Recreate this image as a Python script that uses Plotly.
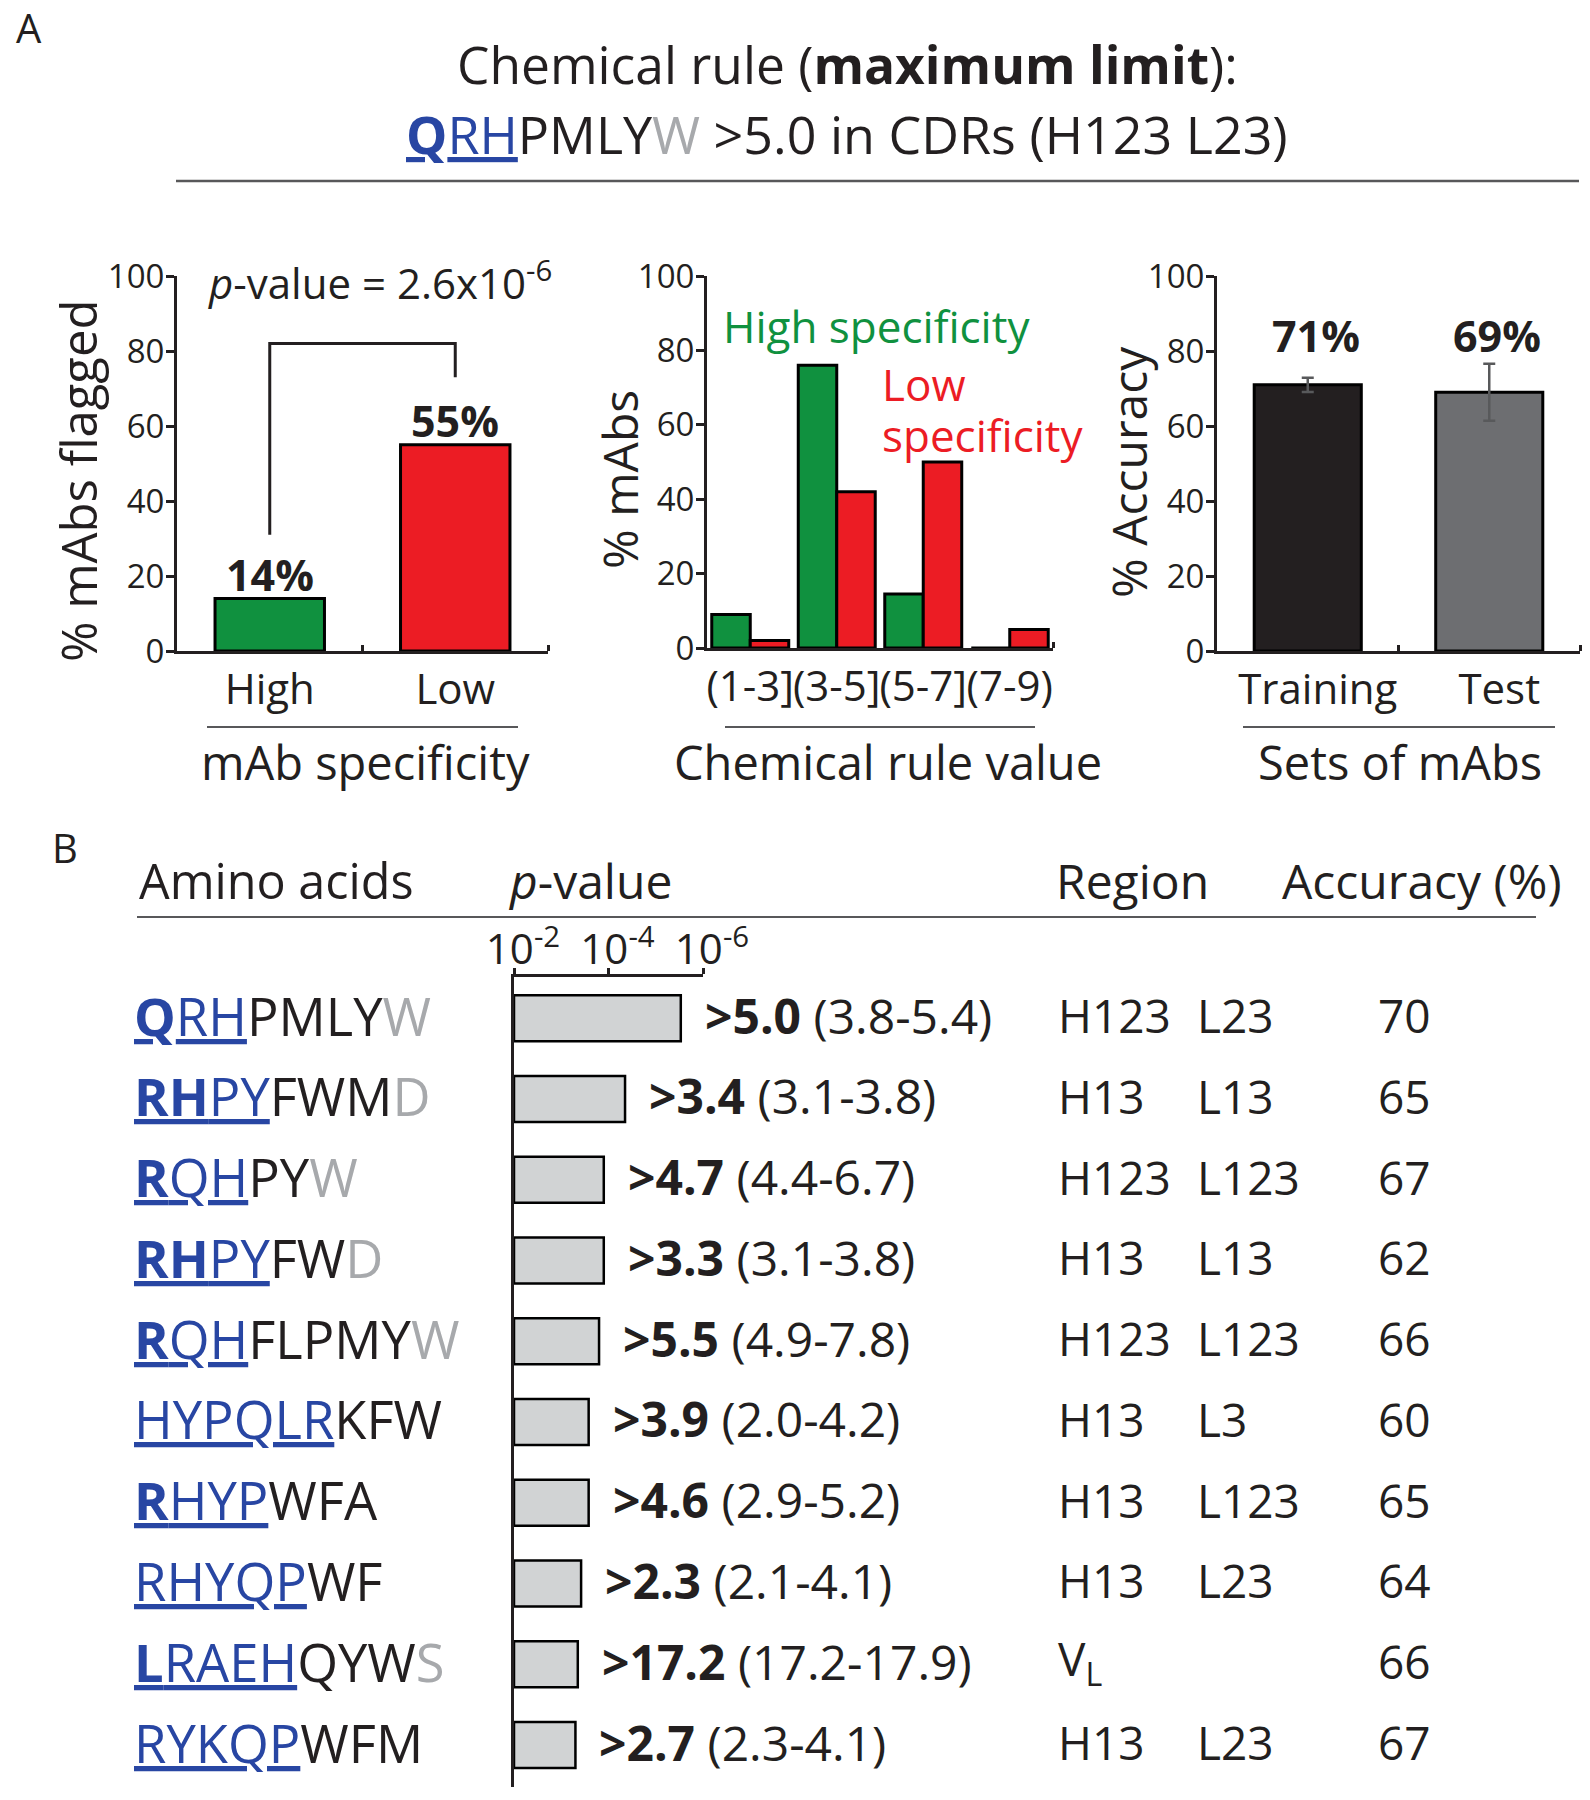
import plotly.graph_objects as go

W, H = 1590, 1800
FONT = "Open Sans"
DARK = "#231F20"
GREEN = "#10913F"
RED = "#EC1C24"
BLUE = "#2846A3"
LIGHT = "#A7A9AC"
RULE = "#58585A"

# ---------------- Panel A data ----------------
spec_categories = ["High", "Low"]
spec_flagged = [14, 55]
pvalue_label = "2.6x10<sup>-6</sup>"
bracket_levels = [31, 82, 73]          # left foot, top, right foot (% axis units)

rule_bins = ["(1-3]", "(3-5]", "(5-7]", "(7-9)"]
high_spec_pct = [9, 76, 14.5, 0]
low_spec_pct = [2, 42, 50, 5]

acc_sets = ["Training", "Test"]
acc_values = [71, 69]
acc_err = [1.9, 7.6]

# ---------------- Panel B data ----------------
aa_bold = ["Q", "RH", "R", "RH", "R", "", "R", "", "L", ""]
aa_blue = ["RH", "PY", "QH", "PY", "QH", "HYPQLR", "HYP", "RHYQP", "RAEH", "RYKQP"]
aa_black = ["PMLY", "FWM", "PY", "FW", "FLPMY", "KFW", "WFA", "WF", "QYW", "WFM"]
aa_gray = ["W", "D", "W", "D", "W", "", "", "", "S", ""]
neg_log10_p = [5.53, 4.35, 3.90, 3.90, 3.80, 3.58, 3.58, 3.42, 3.35, 3.30]
thresholds = ["5.0", "3.4", "4.7", "3.3", "5.5", "3.9", "4.6", "2.3", "17.2", "2.7"]
ranges = ["3.8-5.4", "3.1-3.8", "4.4-6.7", "3.1-3.8", "4.9-7.8",
          "2.0-4.2", "2.9-5.2", "2.1-4.1", "17.2-17.9", "2.3-4.1"]
region_h = ["H123", "H13", "H123", "H13", "H123", "H13", "H13", "H13", "V<sub>L</sub>", "H13"]
region_l = ["L23", "L13", "L123", "L13", "L123", "L3", "L123", "L23", "", "L23"]
accuracy = [70, 65, 67, 62, 66, 60, 65, 64, 66, 67]
p_tickvals = [2, 4, 6]
p_ticktext = ["10<sup>-2</sup>", "10<sup>-4</sup>", "10<sup>-6</sup>"]


def px(x):
    return x / W


def py(y):
    return 1 - y / H


def aa_markup(b, bl, k, g):
    s = "<span style='color:%s'><u>" % BLUE
    if b:
        s += "<b>%s</b>" % b
    s += bl + "</u></span>"
    if k:
        s += "<span style='color:%s'>%s</span>" % (DARK, k)
    if g:
        s += "<span style='color:%s'>%s</span>" % (LIGHT, g)
    return s


annotations = []


def ann(text, x, y, size, xanchor="left", color=DARK, xref="paper", yref="paper",
        textangle=0, yanchor="middle", xshift=0, yshift=0):
    annotations.append(dict(text=text, x=x, y=y, xref=xref, yref=yref, showarrow=False,
                            xanchor=xanchor, yanchor=yanchor, textangle=textangle,
                            font=dict(family=FONT, size=size, color=color),
                            xshift=xshift, yshift=yshift))


fig = go.Figure()

# ---- A1: % mAbs flagged ----
fig.add_trace(go.Bar(x=list(range(len(spec_categories))), y=spec_flagged,
                     marker=dict(color=[GREEN, RED], line=dict(color="black", width=3)),
                     width=0.59, xaxis="x", yaxis="y"))
for i, v in enumerate(spec_flagged):
    ann("<b>%d%%</b>" % v, i, v, 43, xanchor="center", xref="x", yref="y", yshift=24)

# ---- A2: histogram of chemical rule value ----
fig.add_trace(go.Bar(x=list(range(len(rule_bins))), y=high_spec_pct,
                     marker=dict(color=GREEN, line=dict(color="black", width=3)),
                     xaxis="x2", yaxis="y2"))
fig.add_trace(go.Bar(x=list(range(len(rule_bins))), y=low_spec_pct,
                     marker=dict(color=RED, line=dict(color="black", width=3)),
                     xaxis="x2", yaxis="y2"))

# ---- A3: accuracy ----
fig.add_trace(go.Bar(x=list(range(len(acc_sets))), y=acc_values,
                     marker=dict(color=[DARK, "#6D6E71"], line=dict(color="black", width=3)),
                     error_y=dict(type="data", array=acc_err, color="#58595B", thickness=2.5, width=6),
                     width=0.59, xaxis="x3", yaxis="y3"))

# ---- B: p-value bars ----
fig.add_trace(go.Bar(y=list(range(len(neg_log10_p))), x=[v - 2 for v in neg_log10_p],
                     base=[2] * len(neg_log10_p), orientation="h", width=0.57,
                     marker=dict(color="#D1D3D4", line=dict(color="black", width=2.5)),
                     xaxis="x4", yaxis="y4"))

# common axis styling
ax_common = dict(showgrid=False, zeroline=False, showline=True, linecolor=DARK,
                 linewidth=3, tickcolor=DARK)
yA = dict(ax_common, range=[0, 100], tickvals=[0, 20, 40, 60, 80, 100], ticks="outside",
          ticklen=8, tickwidth=3, tickfont=dict(size=33, color=DARK), ticklabelstandoff=-5)
xA = dict(ax_common, ticks="", tickangle=0, tickfont=dict(size=42, color=DARK))

fig.update_layout(
    xaxis=dict(xA, domain=[px(177), px(548)], range=[-0.5, 1.5], anchor="y",
               tickvals=[0, 1], ticktext=spec_categories,
               minor=dict(tickvals=[0.5, 1.5], ticks="inside", ticklen=6, tickwidth=3, tickcolor=DARK)),
    yaxis=dict(yA, domain=[py(651), py(276)], anchor="x"),
    xaxis2=dict(xA, domain=[px(707), px(1053)], range=[-0.5, 3.5], anchor="y2",
                tickvals=[0, 1, 2, 3], ticktext=rule_bins,
                minor=dict(tickvals=[3.5], ticks="inside", ticklen=6, tickwidth=3, tickcolor=DARK)),
    yaxis2=dict(yA, domain=[py(648), py(276)], anchor="x2"),
    xaxis3=dict(xA, domain=[px(1217), px(1580)], range=[-0.5, 1.5], anchor="y3",
                tickvals=[0, 1], ticktext=acc_sets, ticklabelshift=10,
                minor=dict(tickvals=[0.5, 1.5], ticks="inside", ticklen=6, tickwidth=3, tickcolor=DARK)),
    yaxis3=dict(yA, domain=[py(651), py(276)], anchor="x3"),
    xaxis4=dict(showgrid=False, zeroline=False, showline=True, linecolor=DARK, linewidth=2.5,
                domain=[px(514), px(703)], range=[2, 6], side="top", anchor="y4",
                tickvals=p_tickvals, ticktext=p_ticktext, ticks="outside", ticklen=6,
                tickwidth=2.5, tickcolor=DARK, tickfont=dict(size=42, color=DARK),
                ticklabelstandoff=-13, ticklabelshift=9),
    yaxis4=dict(showgrid=False, zeroline=False, showline=True, linecolor=DARK, linewidth=2.5,
                domain=[py(1787), py(977)], range=[9.52, -0.51], anchor="x4",
                showticklabels=False, ticks=""),
    barmode="group", bargap=0.11, bargroupgap=0,
)

# ---- Titles / text ----
ann("A", px(14), py(28), 40)
ann("Chemical rule (<b>maximum limit</b>):", px(847), py(64), 51.5, xanchor="center")
ann(aa_markup(aa_bold[0], aa_blue[0], aa_black[0], aa_gray[0]) +
    "<span style='color:%s'> &gt;5.0 in CDRs (H123 L23)</span>" % DARK,
    px(847), py(134), 52, xanchor="center")

ann("<i>p</i>-value = " + pvalue_label, px(206), py(281), 42)
ann("% mAbs flagged", px(78), py(481), 49, xanchor="center", textangle=-90)
ann("mAb specificity", px(365), py(762), 47, xanchor="center")

ann("High specificity", px(721), py(326), 44, color=GREEN)
ann("Low", px(880), py(384), 44, color=RED)
ann("specificity", px(880), py(435), 44, color=RED)
ann("% mAbs", px(620), py(480), 48, xanchor="center", textangle=-90)
ann("Chemical rule value", px(888), py(762), 47, xanchor="center")

for i, v in enumerate(acc_values):
    ann("<b>%d%%</b>" % v, i, py(335), 43, xanchor="center", xref="x3", xshift=8)
ann("% Accuracy", px(1128), py(472), 48, xanchor="center", textangle=-90)
ann("Sets of mAbs", px(1400), py(762), 47, xanchor="center")

# Panel B header
ann("B", px(50), py(848), 40)
ann("Amino acids", px(137), py(880), 48.5)
ann("<i>p</i>-value", px(506), py(880), 48)
ann("Region", px(1054), py(880), 48)
ann("Accuracy (%)", px(1280), py(880), 48)

for i in range(len(neg_log10_p)):
    ann(aa_markup(aa_bold[i], aa_blue[i], aa_black[i], aa_gray[i]), px(132), i, 52.5,
        yref="y4", yshift=3)
    ann("<b>&gt;%s</b> (%s)" % (thresholds[i], ranges[i]), neg_log10_p[i], i, 48,
        xref="x4", yref="y4", xshift=22, yshift=3)
    ann(region_h[i], px(1056), i, 46, yref="y4", yshift=3)
    if region_l[i]:
        ann(region_l[i], px(1195), i, 46, yref="y4", yshift=3)
    ann(str(accuracy[i]), px(1376), i, 46, yref="y4", yshift=3)

shapes = [
    dict(type="line", xref="paper", yref="paper", x0=px(176), x1=px(1579), y0=py(181), y1=py(181),
         line=dict(color=RULE, width=2.5)),
    dict(type="line", xref="paper", yref="paper", x0=px(207), x1=px(518), y0=py(727), y1=py(727),
         line=dict(color=RULE, width=2)),
    dict(type="line", xref="paper", yref="paper", x0=px(725), x1=px(1035), y0=py(727), y1=py(727),
         line=dict(color=RULE, width=2)),
    dict(type="line", xref="paper", yref="paper", x0=px(1243), x1=px(1555), y0=py(727), y1=py(727),
         line=dict(color=RULE, width=2)),
    dict(type="line", xref="paper", yref="paper", x0=px(137), x1=px(1536), y0=py(917), y1=py(917),
         line=dict(color=RULE, width=2)),
    dict(type="path", xref="x", yref="y",
         path="M 0,%g L 0,%g L 1,%g L 1,%g" % (bracket_levels[0], bracket_levels[1],
                                               bracket_levels[1], bracket_levels[2]),
         line=dict(color=DARK, width=3)),
]

fig.update_layout(
    width=W, height=H, autosize=False,
    margin=dict(l=0, r=0, t=0, b=0, pad=0, autoexpand=False),
    paper_bgcolor="white", plot_bgcolor="white",
    font=dict(family=FONT, color=DARK),
    showlegend=False,
    annotations=annotations,
    shapes=shapes,
)

fig.write_html("out.html", config={"displayModeBar": False},
               post_script="document.body.style.margin='0px';")
